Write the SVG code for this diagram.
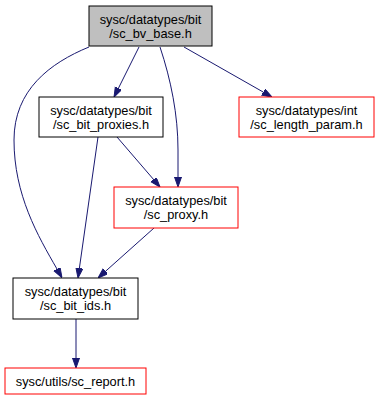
<svg xmlns="http://www.w3.org/2000/svg" width="379" height="400" viewBox="0 0 379 400">
  <style>
    .box { fill: #ffffff; stroke: #000000; stroke-width: 1; }
    .cur { fill: #bfbfbf; stroke: #000000; stroke-width: 1; }
    .ext { fill: #ffffff; stroke: #ff0000; stroke-width: 1; }
    text { font-family: "Liberation Sans", Arial, sans-serif; font-size: 12.8px; fill: #000000; text-anchor: middle; }
    .edge { fill: none; stroke: #191970; stroke-width: 1; marker-end: url(#arrow); }
  </style>
  <defs>
    <marker id="arrow" markerUnits="userSpaceOnUse" markerWidth="10" markerHeight="8" refX="0" refY="3.5" orient="auto">
      <path d="M0,0 L10,3.5 L0,7 z" fill="#191970" stroke="#191970" stroke-width="1"/>
    </marker>
  </defs>

  <g id="edges">
    <path class="edge" d="M139,47 L118.5,88.1"/>
    <path class="edge" d="M184,47 L263.3,92.1"/>
    <path class="edge" d="M160,47 C171,80 178,115 178,150 L178,177"/>
    <path class="edge" d="M89,47 C50,63 14,90 14,140 C14,195 38,236 57,269"/>
    <path class="edge" d="M98,137 L79.4,268.1"/>
    <path class="edge" d="M117,137 L153.5,179.4"/>
    <path class="edge" d="M154,228 L105.5,271.3"/>
    <path class="edge" d="M76,319 L76,358"/>
  </g>

  <g id="sc_bv_base">
    <rect class="cur" x="89" y="6" width="123" height="40"/>
    <text x="150.5" y="24">sysc/datatypes/bit</text>
    <text x="150.5" y="38">/sc_bv_base.h</text>
  </g>

  <g id="sc_bit_proxies">
    <rect class="box" x="39" y="97" width="124" height="40"/>
    <text x="101" y="115">sysc/datatypes/bit</text>
    <text x="101" y="129">/sc_bit_proxies.h</text>
  </g>

  <g id="sc_length_param">
    <rect class="ext" x="239" y="97" width="135" height="40"/>
    <text x="306.5" y="115">sysc/datatypes/int</text>
    <text x="306.5" y="129">/sc_length_param.h</text>
  </g>

  <g id="sc_proxy">
    <rect class="ext" x="114" y="187" width="124" height="41"/>
    <text x="176" y="205">sysc/datatypes/bit</text>
    <text x="176" y="219">/sc_proxy.h</text>
  </g>

  <g id="sc_bit_ids">
    <rect class="box" x="13" y="278" width="125" height="41"/>
    <text x="75.5" y="296">sysc/datatypes/bit</text>
    <text x="75.5" y="310">/sc_bit_ids.h</text>
  </g>

  <g id="sc_report">
    <rect class="ext" x="5" y="368" width="141" height="26"/>
    <text x="75.5" y="386">sysc/utils/sc_report.h</text>
  </g>
</svg>
